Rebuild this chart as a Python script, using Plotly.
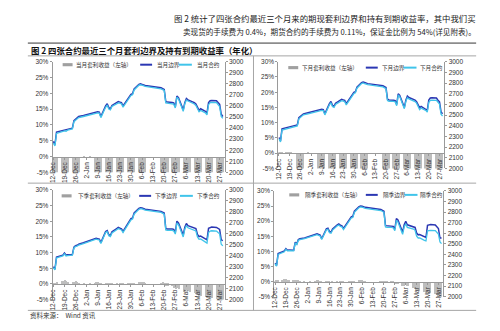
import plotly.graph_objects as go

W, H = 500, 331

dates = ["2012-12-12","2012-12-13","2012-12-14","2012-12-17","2012-12-18","2012-12-19","2012-12-20","2012-12-21","2012-12-24","2012-12-25","2012-12-26","2012-12-27","2012-12-28","2012-12-31",
"2013-01-04","2013-01-07","2013-01-08","2013-01-09","2013-01-10","2013-01-11","2013-01-14","2013-01-15","2013-01-16","2013-01-17","2013-01-18","2013-01-21","2013-01-22","2013-01-23","2013-01-24","2013-01-25","2013-01-28","2013-01-29","2013-01-30","2013-01-31",
"2013-02-01","2013-02-04","2013-02-05","2013-02-06","2013-02-07","2013-02-08","2013-02-18","2013-02-19","2013-02-20","2013-02-21","2013-02-22","2013-02-25","2013-02-26","2013-02-27","2013-02-28",
"2013-03-01","2013-03-04","2013-03-05","2013-03-06","2013-03-07","2013-03-08","2013-03-11","2013-03-12","2013-03-13","2013-03-14","2013-03-15","2013-03-18","2013-03-19","2013-03-20","2013-03-21","2013-03-22","2013-03-25","2013-03-26","2013-03-27","2013-03-28","2013-03-29"]

tick_dates = ["2012-12-12","2012-12-19","2012-12-26","2013-01-02","2013-01-09","2013-01-16","2013-01-23","2013-01-30",
              "2013-02-06","2013-02-13","2013-02-20","2013-02-27","2013-03-06","2013-03-13","2013-03-20","2013-03-27"]
tick_labels = ["12-Dec","19-Dec","26-Dec","2-Jan","9-Jan","16-Jan","23-Jan","30-Jan",
               "6-Feb","13-Feb","20-Feb","27-Feb","6-Mar","13-Mar","20-Mar","27-Mar"]

pct_ticks = [-5, 0, 5, 10, 15, 20, 25, 30]
pct_labels = ["-5%", "0%", "5%", "10%", "15%", "20%", "25%", "30%"]
idx_ticks = [2000, 2100, 2200, 2300, 2400, 2500, 2600, 2700, 2800, 2900, 3000]

# 当月
m1_bar = [-9.2,-10.5,-8.1,-8.6,-8.9,-9.4,-8.7,-9.0,-9.3,-7.6,-8.2,-8.8,-9.1,0.2,
          0.2,-8.4,-8.8,-9.1,-9.6,-10.2,-8.0,-8.3,-9.0,-9.4,-8.6,-8.1,-8.4,-8.9,-9.2,-9.8,-8.2,-7.9,-8.5,-8.8,
          -8.1,-7.6,-7.9,-8.3,-8.6,-8.9,-9.2,-9.5,-9.7,-11.2,-10.8,-10.5,-10.9,-11.6,-9.4,
          -9.8,-11.8,-10.6,-9.9,-10.3,-10.5,-11.0,-11.4,-12.0,-12.6,-12.2,-12.9,-13.4,-11.6,-11.3,-11.2,-11.5,-12.0,-12.3,-14.2,-14.8]
m1_bound = [2280,2250,2365,2375,2380,2385,2382,2392,2400,2468,2480,2490,2505,2515,
            2530,2545,2550,2548,2545,2505,2600,2620,2585,2575,2605,2630,2640,2635,2630,2600,2660,2690,2705,2712,
            2755,2795,2800,2795,2790,2785,2765,2755,2750,2640,2635,2632,2628,2592,2690,
            2675,2565,2630,2668,2655,2650,2630,2618,2585,2560,2575,2552,2535,2630,2648,2650,2648,2630,2615,2525,2505]
m1_contract = [2265,2240,2352,2365,2370,2375,2372,2382,2392,2458,2470,2480,2495,2505,
               2520,2535,2540,2538,2535,2495,2588,2608,2573,2565,2595,2620,2628,2625,2620,2590,2650,2680,2695,2702,
               2745,2788,2792,2788,2782,2778,2755,2745,2740,2628,2625,2622,2618,2582,2680,
               2665,2552,2620,2655,2645,2640,2618,2605,2572,2548,2560,2538,2520,2612,2630,2632,2630,2612,2595,2505,2488]

# 下月
m2_bar = [0.3,0.2,0.4,0.3,0.2,0.3,0.2,0.1,-6.5,-7.2,-7.8,-6.9,-7.4,0.2,
          0.1,-6.8,-7.2,-7.6,-8.0,-8.5,-6.9,-7.1,-7.6,-7.9,-7.3,-6.9,-7.2,-7.5,-7.8,-8.2,-7.0,-6.7,-7.1,-7.4,
          -6.9,-6.5,-6.8,-7.1,-7.3,-7.6,-7.8,-8.0,-8.2,-9.4,-9.1,-8.9,-9.2,-9.8,-8.0,
          -8.4,-10.0,-9.1,-8.5,-8.8,-9.0,-9.4,-9.7,-10.2,-10.7,-10.4,-11.0,-11.4,-9.9,-9.6,-9.5,-9.8,-10.2,-10.5,-12.1,-12.6]
m2_bound = [2290,2258,2372,2382,2388,2392,2390,2400,2408,2475,2488,2498,2512,2522,
            2538,2552,2558,2555,2552,2512,2608,2628,2592,2582,2612,2640,2648,2643,2638,2608,2668,2698,2714,2720,
            2762,2805,2810,2805,2800,2795,2775,2765,2758,2648,2642,2640,2636,2600,2700,
            2685,2572,2640,2678,2665,2660,2640,2625,2592,2568,2582,2560,2545,2640,2660,2662,2660,2640,2625,2530,2512]
m2_contract = [2278,2248,2360,2372,2378,2382,2380,2390,2398,2465,2478,2488,2502,2512,
               2528,2542,2548,2545,2542,2502,2596,2616,2580,2572,2600,2628,2636,2632,2627,2596,2656,2686,2702,2710,
               2752,2796,2801,2796,2791,2786,2764,2754,2747,2636,2630,2628,2624,2588,2688,
               2673,2560,2628,2664,2652,2647,2626,2612,2578,2552,2566,2544,2528,2620,2638,2640,2638,2620,2604,2508,2492]

# 下季
q1_bar = [0.2,0.3,0.4,0.8,1.1,1.3,0.9,0.7,0.4,0.6,0.8,0.5,0.3,0.1,
          0.1,0.2,0.4,0.5,0.3,0.2,0.1,0.2,0.1,0.1,0.2,0.1,0.0,0.1,0.2,0.1,0.1,0.2,0.3,0.2,
          0.3,0.5,0.7,0.6,0.4,0.3,0.2,0.5,-0.3,-0.6,-0.5,-0.8,-1.2,-1.6,-1.4,
          -1.6,-2.6,-2.3,-2.0,-2.4,-2.7,-3.0,-3.2,-3.6,-3.9,-3.7,-4.2,-4.6,-4.0,-4.3,-4.5,-4.8,-5.2,-5.6,-6.4,-6.8]
q1_bound = [2300,2278,2388,2400,2405,2425,2405,2410,2412,2478,2492,2495,2505,2518,
            2540,2555,2560,2556,2552,2520,2622,2630,2592,2585,2618,2648,2658,2652,2645,2622,2700,2725,2738,2745,
            2790,2832,2838,2835,2830,2825,2805,2795,2790,2648,2645,2645,2640,2612,2715,
            2700,2590,2660,2695,2675,2670,2655,2648,2595,2575,2580,2555,2545,2650,2660,2662,2658,2650,2640,2545,2538]
q1_contract = [2292,2270,2380,2392,2398,2418,2398,2402,2405,2470,2485,2488,2498,2510,
               2532,2547,2552,2548,2544,2512,2612,2620,2582,2575,2608,2638,2648,2642,2635,2612,2690,2715,2728,2735,
               2780,2824,2830,2827,2822,2817,2796,2786,2780,2636,2632,2632,2627,2598,2700,
               2684,2572,2642,2676,2655,2650,2634,2626,2572,2550,2554,2528,2516,2612,2625,2628,2625,2612,2600,2505,2490]

# 隔季
q2_bar = [0.2,0.3,0.3,0.6,0.8,1.0,0.7,0.5,0.3,0.5,0.6,0.4,0.2,0.1,
          0.1,0.1,0.3,0.4,0.2,0.1,0.1,0.1,0.1,0.0,0.1,0.1,0.0,0.1,0.1,0.1,0.0,0.1,0.2,0.1,
          0.2,0.3,0.4,0.3,0.2,0.2,0.1,0.2,0.1,-0.2,-0.3,-0.4,-0.6,-0.9,-0.7,
          -0.9,-1.6,-1.3,-1.1,-1.4,-1.6,-2.0,-2.3,-2.8,-3.2,-3.0,-3.5,-3.9,-3.3,-3.6,-3.8,-4.1,-4.5,-4.8,-5.5,-6.0]
q2_bound = [2318,2295,2408,2425,2432,2455,2440,2442,2440,2515,2500,2540,2548,2555,
            2578,2590,2594,2588,2582,2548,2642,2648,2615,2610,2640,2680,2688,2675,2670,2645,2718,2742,2755,2760,
            2808,2852,2858,2855,2850,2845,2825,2815,2808,2672,2670,2670,2665,2640,2738,
            2725,2610,2680,2712,2680,2676,2665,2655,2602,2585,2588,2565,2560,2675,2682,2682,2678,2665,2645,2555,2555]
q2_contract = [2310,2288,2400,2418,2425,2448,2433,2435,2433,2508,2493,2533,2540,2548,
               2570,2582,2586,2580,2574,2540,2632,2638,2605,2600,2630,2670,2678,2665,2660,2635,2708,2732,2745,2750,
               2798,2843,2849,2846,2841,2836,2815,2805,2798,2660,2656,2656,2650,2624,2722,
               2706,2590,2660,2690,2656,2652,2640,2628,2572,2555,2556,2532,2528,2622,2628,2628,2625,2612,2592,2518,2502]

panels = [
    dict(bar=m1_bar, bound=m1_bound, contract=m1_contract,
         names=["当月套利收益（左轴）", "当月边界", "当月合约"],
         x=(50, 223), y=(59, 172), leg_y=62, leg=(60, 71, 138, 153, 177, 193)),
    dict(bar=m2_bar, bound=m2_bound, contract=m2_contract,
         names=["下月套利收益（左轴）", "下月边界", "下月合约"],
         x=(277, 444), y=(59, 168), leg_y=65, leg=(287, 299, 365, 379, 403, 418)),
    dict(bar=q1_bar, bound=q1_bound, contract=q1_contract,
         names=["下季套利收益（左轴）", "下季边界", "下季合约"],
         x=(50, 223), y=(190, 302), leg_y=196, leg=(59, 73, 137, 151, 178, 193)),
    dict(bar=q2_bar, bound=q2_bound, contract=q2_contract,
         names=["隔季套利收益（左轴）", "隔季边界", "隔季合约"],
         x=(273, 443), y=(191, 299), leg_y=195, leg=(288, 302, 365, 380, 404, 418)),
]

DARK = "#2B37B3"
LIGHT = "#40C4EA"
BARC = "#BEBEBE"
AX = "#9A9A9A"
TXT = "#333333"
NUM_FONT = "Liberation Sans, Arial, sans-serif"
CJK = "Noto Sans CJK SC, sans-serif"

def px(x):
    return x / W

def py(y):
    return 1 - y / H

fig = go.Figure()
layout = dict(width=W, height=H, margin=dict(l=0, r=0, t=0, b=0),
              paper_bgcolor="white", plot_bgcolor="white", showlegend=False)
shapes = []
annotations = []

for i, p in enumerate(panels):
    xa = "x" if i == 0 else f"x{i+1}"
    yl_n = 2 * i + 1
    yr_n = 2 * i + 2
    yl = "y" if yl_n == 1 else f"y{yl_n}"
    yr = f"y{yr_n}"
    fig.add_trace(go.Bar(x=dates, y=p["bar"], xaxis=xa, yaxis=yl, marker_color=BARC,
                         marker_line_width=0, width=86400000 * 0.62, name=p["names"][0]))
    fig.add_trace(go.Scatter(x=dates, y=p["bound"], xaxis=xa, yaxis=yr, mode="lines",
                             line=dict(color=DARK, width=1.5), name=p["names"][1]))
    fig.add_trace(go.Scatter(x=dates, y=p["contract"], xaxis=xa, yaxis=yr, mode="lines",
                             line=dict(color=LIGHT, width=1.3), name=p["names"][2]))
    xd = [px(p["x"][0]), px(p["x"][1])]
    yd = [py(p["y"][1]), py(p["y"][0])]
    zero_pos = yd[0] + (yd[1] - yd[0]) * (5 / 35)
    xkey = "xaxis" if i == 0 else f"xaxis{i+1}"
    ylkey = "yaxis" if yl_n == 1 else f"yaxis{yl_n}"
    yrkey = f"yaxis{yr_n}"
    layout[xkey] = dict(domain=xd, type="date", range=["2012-12-11 14:00", "2013-03-30 04:00"],
                        anchor="free", position=zero_pos,
                        tickvals=tick_dates, ticktext=tick_labels, tickangle=-90,
                        tickfont=dict(size=6.5, color=TXT, family=NUM_FONT),
                        showline=True, linecolor=AX, linewidth=1, ticks="outside", ticklen=2,
                        tickcolor=AX, showgrid=False, zeroline=False, fixedrange=True)
    layout[ylkey] = dict(domain=yd, anchor=xa, range=[-5, 30], tickvals=pct_ticks, ticktext=pct_labels,
                         tickfont=dict(size=6.5, color=TXT, family=NUM_FONT),
                         showline=True, linecolor=AX, linewidth=1, ticks="outside", ticklen=2,
                         tickcolor=AX, showgrid=False, zeroline=False)
    layout[yrkey] = dict(domain=yd, anchor=xa, overlaying=yl, side="right", range=[2000, 3000],
                         tickvals=idx_ticks, tickfont=dict(size=6.5, color=TXT, family=NUM_FONT),
                         showline=True, linecolor=AX, linewidth=1, ticks="outside", ticklen=2,
                         tickcolor=AX, showgrid=False, zeroline=False)
    # manual legend
    gx, gt, dx, dt, lx, lt = p["leg"]
    ly = p["leg_y"]
    shapes.append(dict(type="rect", xref="paper", yref="paper", x0=px(gx), x1=px(gx + 10),
                       y0=py(ly + 1.6), y1=py(ly - 1.6), fillcolor="#A0A0A0", line_width=0))
    shapes.append(dict(type="line", xref="paper", yref="paper", x0=px(dx), x1=px(dx + 12),
                       y0=py(ly), y1=py(ly), line=dict(color=DARK, width=2)))
    shapes.append(dict(type="line", xref="paper", yref="paper", x0=px(lx), x1=px(lx + 13),
                       y0=py(ly), y1=py(ly), line=dict(color=LIGHT, width=2)))
    for tx, name in zip((gt, dt, lt), p["names"]):
        annotations.append(dict(xref="paper", yref="paper", x=px(tx), y=py(ly), text=name,
                                showarrow=False, xanchor="left", yanchor="middle",
                                font=dict(size=5.6, color=TXT, family=CJK)))

# frame lines
shapes.append(dict(type="line", xref="paper", yref="paper", x0=px(25), x1=px(476), y0=py(40), y1=py(40),
                   line=dict(color="#8C8C8C", width=1.6)))
for yy in (53, 183, 313):
    shapes.append(dict(type="line", xref="paper", yref="paper", x0=px(25), x1=px(476), y0=py(yy), y1=py(yy),
                       line=dict(color="#A6A6A6", width=1)))
shapes.append(dict(type="line", xref="paper", yref="paper", x0=px(252), x1=px(252), y0=py(53), y1=py(313),
                   line=dict(color="#A6A6A6", width=1)))

annotations += [
    dict(xref="paper", yref="paper", x=px(478), y=py(14), xanchor="right", yanchor="middle", showarrow=False,
         text="图 2 统计了四张合约最近三个月来的期现套利边界和持有到期收益率，其中我们买",
         font=dict(size=8.4, color="#222222", family=CJK)),
    dict(xref="paper", yref="paper", x=px(478), y=py(28), xanchor="right", yanchor="middle", showarrow=False,
         text="卖现货的手续费为 0.4%，期货合约的手续费为 0.11%，保证金比例为 54%(详见附表)。",
         font=dict(size=7.6, color="#222222", family=CJK)),
    dict(xref="paper", yref="paper", x=px(26), y=py(46.5), xanchor="left", yanchor="middle", showarrow=False,
         text="<b>图 2 四张合约最近三个月套利边界及持有到期收益率（年化）</b>",
         font=dict(size=8.4, color="#111111", family=CJK)),
    dict(xref="paper", yref="paper", x=px(25), y=py(318), xanchor="left", yanchor="middle", showarrow=False,
         text="资料来源：  Wind 资讯",
         font=dict(size=6.5, color="#333333", family=CJK)),
]

layout["shapes"] = shapes
layout["annotations"] = annotations
layout["bargap"] = 0
fig.update_layout(**layout)
fig.write_html("out.html", config={"displayModeBar": False})
